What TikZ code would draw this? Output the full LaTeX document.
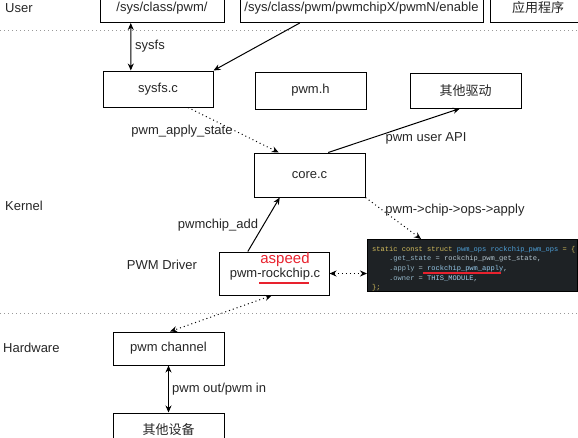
\documentclass[tikz,border=0pt]{standalone}
\usepackage{fontspec}
\setmainfont{Liberation Sans}
\setmonofont{Liberation Mono}
\newfontfamily\cjk{Noto Sans CJK SC}
\usetikzlibrary{arrows.meta,calc}

\definecolor{codebg}{HTML}{1E2225}
\definecolor{kwcol}{HTML}{D2BC5C}
\definecolor{tycol}{HTML}{4EA1D9}
\definecolor{fldcol}{HTML}{94B6C8}
\definecolor{idcol}{HTML}{B4C6D0}
\definecolor{markred}{HTML}{E8222E}
\definecolor{txtcol}{HTML}{262626}

\tikzset{
  box/.style={draw, line width=1pt, inner sep=0pt, text=txtcol,
    font=\fontsize{13}{15}\selectfont},
  lbl/.style={inner sep=0pt, text=txtcol, font=\fontsize{13}{15}\selectfont},
  sepline/.style={line width=1pt, gray!80, dash pattern=on 1pt off 3pt},
  arr/.style={line width=1pt, -{Stealth[length=7pt,width=6pt]}},
  biarr/.style={line width=1pt, {Stealth[length=7pt,width=6pt]}-{Stealth[length=7pt,width=6pt]}},
  dotarr/.style={arr, dash pattern=on 1pt off 3pt},
  dotbiarr/.style={biarr, dash pattern=on 1pt off 3pt},
}

\begin{document}
\begin{tikzpicture}[x=1pt,y=-1pt]
  \useasboundingbox (0,0) rectangle (578,437);%

  % Drawing layer separators
  \draw [sepline] (0,30) -- (578,30);%
  \draw [sepline] (0,313) -- (578,313);%

  % Marking layer names
  \node [lbl, anchor=west] (user) at (5,8) {User};%
  \node [lbl, anchor=west] (kernel) at (5,206) {Kernel};%
  \node [lbl, anchor=west] (hardware) at (3,348) {Hardware};%
  \node [lbl] (pwmdrv) at (162,265) {PWM Driver};%

  % Drawing user space boxes
  \node [box, minimum width=124, minimum height=29] (sysclass) at (162,8) {/sys/class/pwm/};%
  \node [box, minimum width=243, minimum height=29] (enable) at (361.5,8) {/sys/class/pwm/pwmchipX/pwmN/enable};%
  \node [box, minimum width=96, minimum height=29] (app) at (538,8) {\cjk 应用程序};%

  % Drawing kernel boxes
  \node [box, minimum width=110, minimum height=36] (sysfsc) at (158,89) {sysfs.c};%
  \node [box, minimum width=111, minimum height=37] (pwmh) at (310.5,90.5) {pwm.h};%
  \node [box, minimum width=111, minimum height=35] (otherdrv) at (465.5,90.5) {\cjk 其他驱动};%
  \node [box, minimum width=111, minimum height=44] (core) at (309.5,175) {core.c};%
  \node [box, minimum width=110, minimum height=43] (rockchip) at (274,273.5) {};%
  \node [lbl, text=markred, font=\fontsize{15}{17}\selectfont] (aspeed) at (285,260) {aspeed};%
  \node [lbl] (rockchiptxt) at (275,274) {pwm-rockchip.c};%
  \draw [markred, line width=1.5pt] (259,283) -- (309,283);%

  % Drawing code block
  \node [draw=black, fill=codebg, minimum width=210, minimum height=52, inner sep=0pt,
    anchor=north west] (code) at (367,239) {};%
  \node [inner sep=0pt, anchor=north west, align=left, text=idcol,
    font=\ttfamily\fontsize{7.05}{9.6}\selectfont] (codetxt) at (372,246) {%
    \textcolor{kwcol}{static const struct} \textcolor{tycol}{pwm\_ops rockchip\_pwm\_ops} \textcolor{kwcol}{= \{}\\
    \hspace*{16.9pt}\textcolor{fldcol}{.get\_state} = rockchip\_pwm\_get\_state,\\
    \hspace*{16.9pt}\textcolor{fldcol}{.apply} = \textcolor{tycol!60!white}{rockchip\_pwm\_apply},\\
    \hspace*{16.9pt}\textcolor{fldcol}{.owner} = \textcolor{tycol!50!white}{THIS\_MODULE},\\
    \textcolor{kwcol}{\};}};%
  \draw [markred, line width=1.5pt] (423,273) -- (501,273);%

  % Drawing hardware boxes
  \node [box, minimum width=111, minimum height=33] (channel) at (168.5,348.5) {pwm channel};%
  \node [box, minimum width=111, minimum height=34] (otherdev) at (168.5,430) {\cjk 其他设备};%

  % Drawing connectors
  \draw [biarr] ($(sysclass.south west)!0.25!(sysclass.south east)$) -- ($(sysfsc.north west)!0.255!(sysfsc.north east)$);%
  \node [lbl, anchor=west] (sysfslbl) at (135,46) {sysfs};%

  \draw [arr] ($(enable.south west)!0.247!(enable.south east)$) -- (sysfsc.north east);%

  \draw [dotarr] ($(sysfsc.south west)!0.77!(sysfsc.south east)$) -- ($(core.north west)!0.225!(core.north east)$);%
  \node [lbl] (applylbl) at (182,131) {pwm\_apply\_state};%

  \draw [arr] ($(core.north west)!0.667!(core.north east)$) -- ($(otherdrv.south west)!0.45!(otherdrv.south east)$);%
  \node [lbl] (apilbl) at (426,138) {pwm user API};%

  \draw [arr] ($(rockchip.north west)!0.264!(rockchip.north east)$) -- ($(core.south west)!0.234!(core.south east)$);%
  \node [lbl] (addlbl) at (218,225) {pwmchip\_add};%

  \draw [dotarr] (core.south east) -- ($(code.north west)!0.257!(code.north east)$);%
  \node [lbl] (opslbl) at (455,210) {pwm->chip->ops->apply};%

  \draw [dotbiarr] (rockchip.east) -- (rockchip.east -| code.west);%

  \draw [dotbiarr] ($(rockchip.south west)!0.48!(rockchip.south east)$) -- ($(channel.north west)!0.514!(channel.north east)$);%

  \draw [biarr] (channel.south) -- (otherdev.north);%
  \node [lbl, anchor=west] (iolbl) at (172,389) {pwm out/pwm in};%
\end{tikzpicture}
\end{document}
